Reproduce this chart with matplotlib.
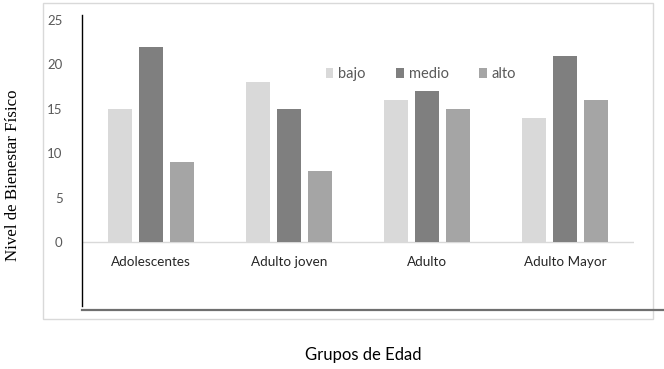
import matplotlib.pyplot as plt
import numpy as np
from matplotlib.patches import Rectangle
from matplotlib.lines import Line2D

groups = ["Adolescentes", "Adulto joven", "Adulto", "Adulto Mayor"]
series = ["bajo", "medio", "alto"]
bajo = [15, 18, 16, 14]
medio = [22, 15, 17, 21]
alto = [9, 8, 15, 16]
y_ticks = [0, 5, 10, 15, 20, 25]

colors = ["#d9d9d9", "#7f7f7f", "#a5a5a5"]
W, H = 664, 369


def main():
    fig = plt.figure(figsize=(W / 100, H / 100), dpi=100)
    ax = fig.add_axes([82 / W, 1 - 306 / H, (634 - 82) / W, (306 - 15) / H])

    # chart frame
    fig.patches.append(Rectangle((43 / W, 1 - 319 / H), (653 - 43) / W, (319 - 3) / H,
                                 transform=fig.transFigure, fill=False, ec="#d9d9d9", lw=1.0))
    fig.lines.append(Line2D([82 / W, 1.0], [1 - 309.5 / H] * 2, transform=fig.transFigure,
                            color="#6f6f6f", lw=1.6))

    x = np.arange(len(groups))
    width, step = 0.175, 0.225
    for i, (name, vals) in enumerate(zip(series, [bajo, medio, alto])):
        ax.bar(x + (i - 1) * step, vals, width, color=colors[i], label=name, zorder=3)

    ax.set_xlim(-0.5, len(groups) - 0.5)
    ax.set_ylim(-7.2, 25.56)
    ax.axhline(0, color="#d9d9d9", lw=1.0, zorder=1)
    ax.set_yticks(y_ticks)
    ax.set_yticklabels([str(t) for t in y_ticks], fontfamily="Lato", fontsize=9.5, color="#595959")
    ax.tick_params(axis="y", length=0, pad=14)
    ax.set_xticks([])
    for xi, g in zip(x, groups):
        ax.text(xi, -2.3, g, ha="center", va="center", fontfamily="Lato", fontsize=9.7, color="#262626")

    for s in ["top", "right", "bottom"]:
        ax.spines[s].set_visible(False)
    ax.spines["left"].set_color("black")
    ax.spines["left"].set_linewidth(1.0)

    ax.legend(loc="center", bbox_to_anchor=(421 / W, 1 - 74 / H), bbox_transform=fig.transFigure,
              ncol=3, frameon=False, handlelength=0.5, handleheight=0.7, handletextpad=0.35,
              columnspacing=2.1, prop={"family": "Lato", "size": 10.5}, labelcolor="#595959")

    fig.text(13 / W, 1 - 175 / H, "Nivel de Bienestar Físico", rotation=90, ha="center", va="center",
             fontfamily="Liberation Serif", fontsize=12.2, color="black")
    fig.text(363 / W, 1 - 355 / H, "Grupos de Edad", ha="center", va="center",
             fontfamily="Lato", fontsize=12, color="black")

    fig.savefig("out.png", dpi=100)
    return fig


if __name__ == "__main__":
    main()
